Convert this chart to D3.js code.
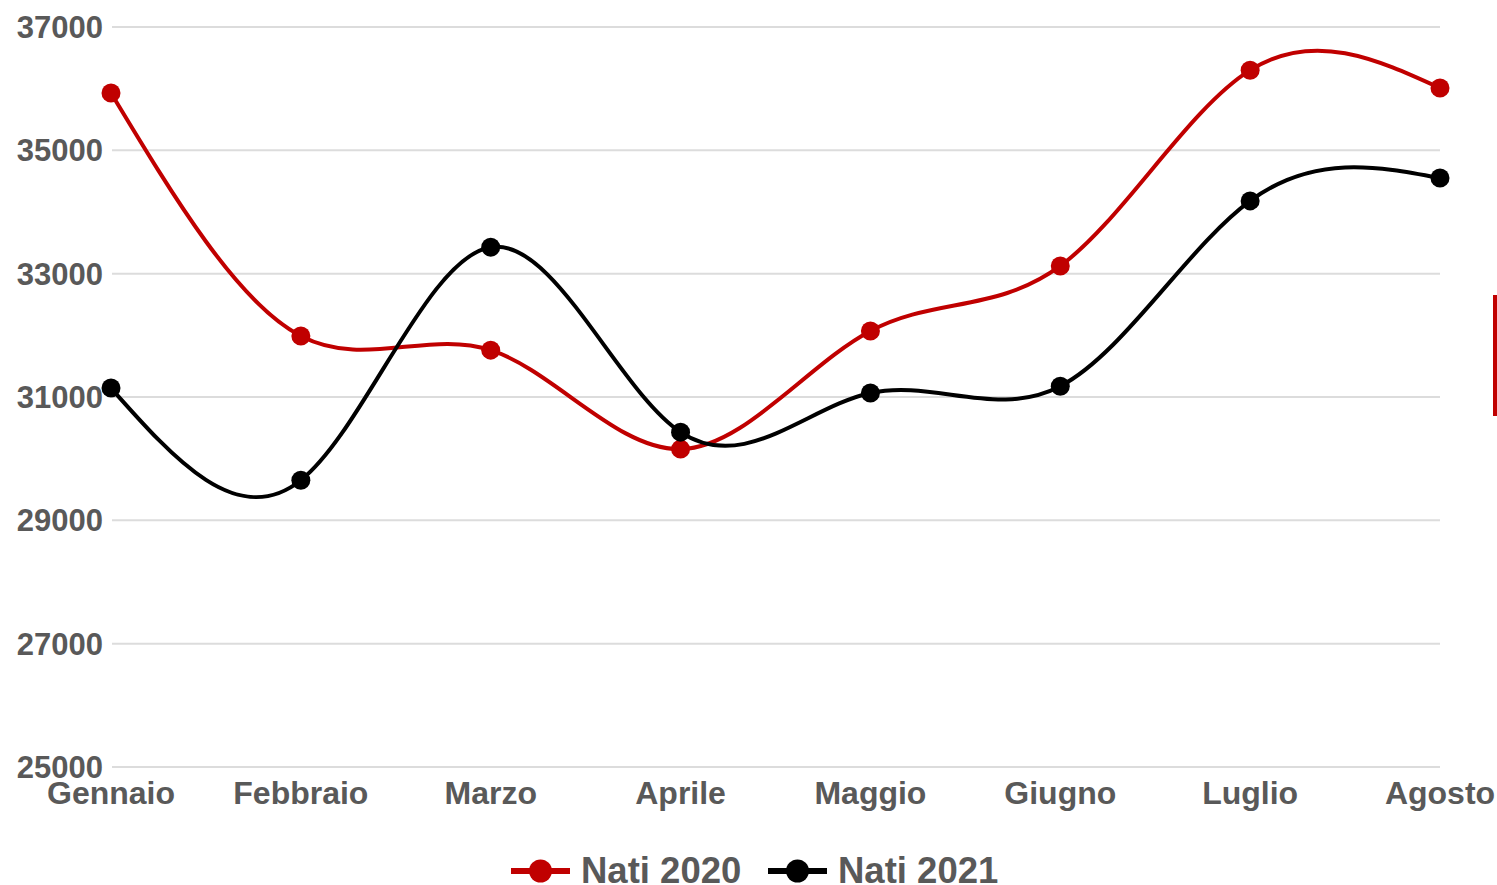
<!DOCTYPE html>
<html><head><meta charset="utf-8">
<script src="https://cdn.jsdelivr.net/npm/d3@7"></script>
<style>html,body{margin:0;padding:0;background:#fff;}svg{display:block;}</style>
</head><body>
<svg id="c" width="1497" height="885"></svg>
<script>
const months = ["Gennaio","Febbraio","Marzo","Aprile","Maggio","Giugno","Luglio","Agosto"];
const nati2020 = [35930, 31990, 31760, 30155, 32070, 33125, 36300, 36010];
const nati2021 = [31145, 29650, 33430, 30430, 31065, 31175, 34180, 34550];
const yTicks = [25000, 27000, 29000, 31000, 33000, 35000, 37000];
const seriesNames = ["Nati 2020", "Nati 2021"];
const seriesColors = ["#c00000", "#000000"];

const svg = d3.select("#c");
const x = d3.scalePoint().domain(months).range([111, 1440]);
const y = d3.scaleLinear().domain([25000, 37000]).range([767, 27]);
const font = "'Liberation Sans', Arial, sans-serif";

// gridlines
svg.append("g").selectAll("line").data(yTicks).join("line")
  .attr("x1", 112).attr("x2", 1440)
  .attr("y1", d => y(d)).attr("y2", d => y(d))
  .attr("stroke", "#dcdcdc").attr("stroke-width", 2);

// y labels
svg.append("g").selectAll("text").data(yTicks).join("text")
  .attr("x", 103).attr("y", d => y(d) + 11)
  .attr("text-anchor", "end")
  .attr("font-family", font).attr("font-weight", "bold").attr("font-size", 31)
  .attr("fill", "#595959").text(d => d);

// x labels
svg.append("g").selectAll("text").data(months).join("text")
  .attr("x", d => x(d)).attr("y", 804)
  .attr("text-anchor", "middle")
  .attr("font-family", font).attr("font-weight", "bold").attr("font-size", 32)
  .attr("fill", "#595959").text(d => d);

const line = d3.line().x((d, i) => x(months[i])).y(d => y(d)).curve(d3.curveNatural);

[nati2020, nati2021].forEach((vals, si) => {
  const g = svg.append("g");
  g.append("path").datum(vals).attr("d", line)
    .attr("fill", "none").attr("stroke", seriesColors[si]).attr("stroke-width", 4);
  g.selectAll("circle").data(vals).join("circle")
    .attr("cx", (d, i) => x(months[i])).attr("cy", d => y(d)).attr("r", 9.5)
    .attr("fill", seriesColors[si]);
});

// legend
const legendX = [511, 768];
seriesNames.forEach((name, i) => {
  const g = svg.append("g").attr("transform", `translate(${legendX[i]},871)`);
  g.append("line").attr("x1", 0).attr("x2", 59).attr("y1", 0).attr("y2", 0)
    .attr("stroke", seriesColors[i]).attr("stroke-width", 6);
  g.append("circle").attr("cx", 29.5).attr("cy", 0).attr("r", 11.5).attr("fill", seriesColors[i]);
  g.append("text").attr("x", 70).attr("y", 12)
    .attr("font-family", font).attr("font-weight", "bold").attr("font-size", 36.5)
    .attr("fill", "#595959").text(name);
});

// red marker at right edge
svg.append("rect").attr("x", 1493).attr("y", 295).attr("width", 4).attr("height", 121).attr("fill", "#c00000");
</script>
</body></html>
